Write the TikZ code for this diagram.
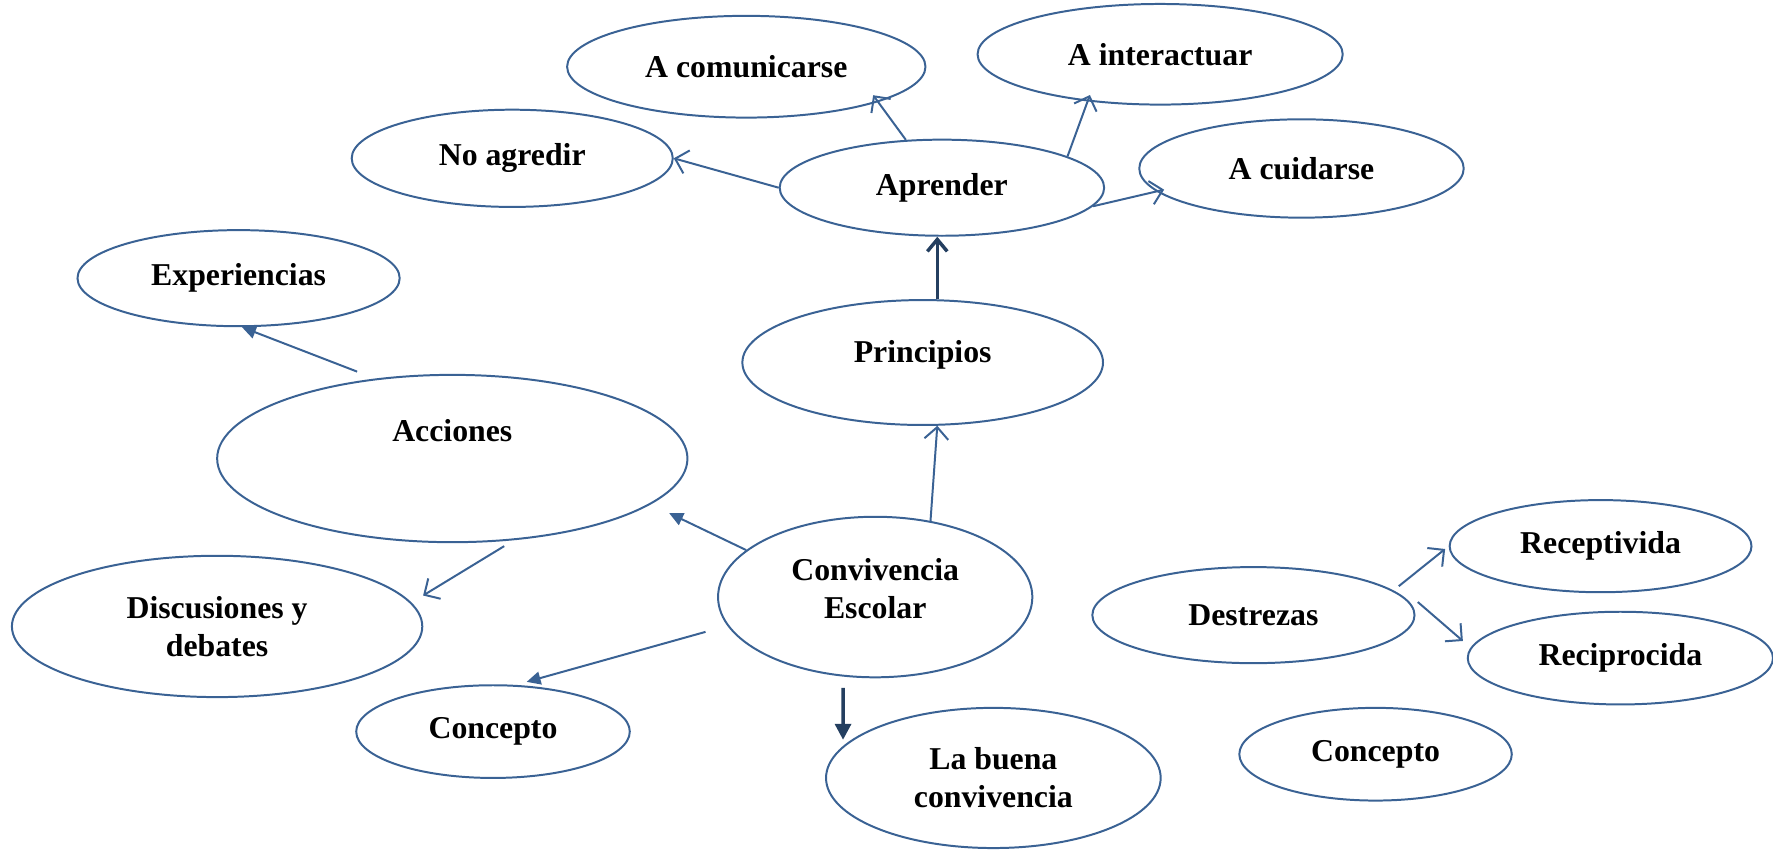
\documentclass[tikz,border=0pt]{standalone}
\usepackage{fontspec}
\setmainfont{Liberation Serif}
\usetikzlibrary{shapes.geometric,arrows.meta}
\definecolor{lineblue}{RGB}{58,98,148}
\definecolor{darkblue}{RGB}{36,63,96}
\begin{document}
\begin{tikzpicture}[x=0.02cm,y=-0.02cm,
		bubble/.style={ellipse,draw=lineblue,line width=1pt,inner sep=0pt,align=center,font=\fontsize{16}{19}\selectfont\bfseries},
		openarrow/.style={draw=lineblue,line width=1pt,-{Straight Barb[length=6pt,width=12pt]}},
		fillarrow/.style={draw=lineblue,line width=1pt,-{Triangle[length=7pt,width=6.5pt]}},
		darkopen/.style={draw=darkblue,line width=1.75pt,-{Straight Barb[length=6pt,width=10pt]}},
		darkfill/.style={draw=darkblue,line width=1.75pt,-{Triangle[length=8pt,width=8pt]}}]
		\useasboundingbox (0,0) rectangle (1568,751);
		\node[bubble,minimum width=6.34cm,minimum height=1.80cm] (comunicarse) at (660,59) {A comunicarse};
		\node[bubble,minimum width=6.46cm,minimum height=1.78cm] (interactuar) at (1026,48) {A interactuar};
		\node[bubble,minimum width=5.68cm,minimum height=1.72cm] (agredir) at (453,140) {No agredir};
		\node[bubble,minimum width=5.74cm,minimum height=1.70cm] (aprender) at (833,166) {Aprender};
		\node[bubble,minimum width=5.74cm,minimum height=1.74cm] (cuidarse) at (1151,149) {A cuidarse};
		\node[bubble,minimum width=5.70cm,minimum height=1.70cm] (experiencias) at (211,246) {Experiencias};
		\node[bubble,minimum width=6.38cm,minimum height=2.21cm,text depth=11pt] (principios) at (816,320.6) {Principios};
		\node[bubble,minimum width=8.32cm,minimum height=2.96cm,text depth=28pt] (acciones) at (400,405.5) {Acciones};
		\node[bubble,minimum width=5.56cm,minimum height=2.84cm,text depth=9pt] (convivencia) at (774,528) {Convivencia\\Escolar};
		\node[bubble,minimum width=7.26cm,minimum height=2.50cm] (discusiones) at (192,554) {Discusiones y\\debates};
		\node[bubble,minimum width=4.84cm,minimum height=1.64cm] (conceptoA) at (436,647) {Concepto};
		\node[bubble,minimum width=5.92cm,minimum height=2.48cm] (buena) at (878.5,688) {La buena\\convivencia};
		\node[bubble,minimum width=5.70cm,minimum height=1.70cm] (destrezas) at (1108.5,544) {Destrezas};
		\node[bubble,minimum width=5.34cm,minimum height=1.63cm] (receptivida) at (1415.5,483) {Receptivida};
		\node[bubble,minimum width=5.40cm,minimum height=1.64cm] (reciprocida) at (1433,582) {Reciprocida};
		\node[bubble,minimum width=4.82cm,minimum height=1.64cm] (conceptoB) at (1216.5,667) {Concepto};
		\draw[openarrow,shorten >=-0.15cm] (aprender.127) -- (comunicarse.-15);
		\draw[openarrow,shorten >=-0.12cm] (aprender.14) -- (interactuar.-147);
		\draw[openarrow] (aprender.west) -- (agredir.east);
		\draw[openarrow,shorten >=-0.14cm] (aprender.-7) -- (cuidarse.189);
		\draw[darkopen] (principios.77) -- (principios.77 |- aprender.south);
		\draw[openarrow] (convivencia.54) -- (principios.-77);
		\draw[fillarrow,shorten <=0.34cm] (acciones.134) -- (experiencias.-86);
		\draw[fillarrow,shorten >=0.36cm] (convivencia.160) -- (acciones.-13);
		\draw[openarrow,shorten <=0.2cm,shorten >=0.24cm] (acciones.-53) -- (discusiones.7);
		\draw[fillarrow,shorten <=0.4cm,shorten >=0.2cm] (convivencia.191) -- (conceptoA.64);
		\draw[darkfill,shorten <=0.2cm,shorten >=0.11cm] (convivencia.-112) -- (buena.168);
		\draw[openarrow,shorten <=0.12cm,shorten >=0.08cm] (destrezas.10) -- (receptivida.west);
		\draw[openarrow,shorten >=0.18cm] ([shift={(2,-11.6)}]destrezas.east) -- (reciprocida.176);
	\end{tikzpicture}
\end{document}
